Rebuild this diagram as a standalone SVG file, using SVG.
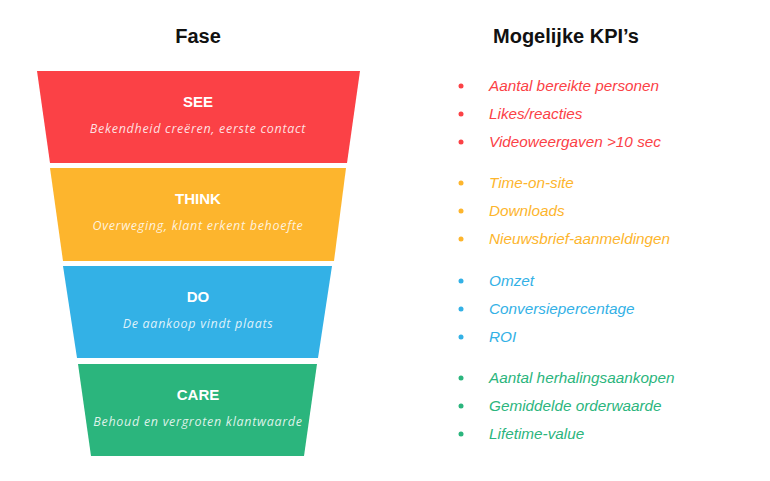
<svg xmlns="http://www.w3.org/2000/svg" width="770" height="481" viewBox="0 0 770 481">
<style>
.h{font-family:"Liberation Sans",Arial,sans-serif;font-weight:bold;font-size:20px;fill:#111;text-anchor:middle}
.t{font-family:"Liberation Sans",Arial,sans-serif;font-weight:bold;font-size:15px;fill:#fff;text-anchor:middle}
.s{font-family:"Open Sans","Liberation Sans",sans-serif;font-style:italic;font-size:12.5px;letter-spacing:0.7px;fill:#fff;fill-opacity:.85;text-anchor:middle}
.k{font-family:"Liberation Sans",Arial,sans-serif;font-style:italic;font-size:15.3px}
</style>
<rect width="770" height="481" fill="#fff"/>
<text class="h" x="198" y="43">Fase</text>
<text class="h" x="566" y="43">Mogelijke KPI’s</text>
<g id="see"><polygon points="37,71 360,71 347,163 50,163" fill="#fb4146"/><text class="t" x="198" y="107">SEE</text><text class="s" x="198" y="133">Bekendheid creëren, eerste contact</text></g>
<g id="think"><polygon points="50,168 346,168 334,261 63,261" fill="#fdb52d"/><text class="t" x="198" y="204">THINK</text><text class="s" x="198" y="230">Overweging, klant erkent behoefte</text></g>
<g id="do"><polygon points="63,266 332,266 318,358 77,358" fill="#33b1e6"/><text class="t" x="198" y="302">DO</text><text class="s" x="198" y="328">De aankoop vindt plaats</text></g>
<g id="care"><polygon points="78,364 317,364 304,456 91,456" fill="#2bb57d"/><text class="t" x="198" y="400">CARE</text><text class="s" x="198" y="426">Behoud en vergroten klantwaarde</text></g>
<g id="kpi-see" fill="#fb4146"><circle cx="461" cy="86" r="2.5"/><circle cx="461" cy="114" r="2.5"/><circle cx="461" cy="142" r="2.5"/>
<text class="k" x="489" y="91">Aantal bereikte personen</text><text class="k" x="489" y="119">Likes/reacties</text><text class="k" x="489" y="147">Videoweergaven &gt;10 sec</text></g>
<g id="kpi-think" fill="#fdb52d"><circle cx="461" cy="183" r="2.5"/><circle cx="461" cy="211" r="2.5"/><circle cx="461" cy="239" r="2.5"/>
<text class="k" x="489" y="188">Time-on-site</text><text class="k" x="489" y="216">Downloads</text><text class="k" x="489" y="244">Nieuwsbrief-aanmeldingen</text></g>
<g id="kpi-do" fill="#33b1e6"><circle cx="461" cy="281" r="2.5"/><circle cx="461" cy="309" r="2.5"/><circle cx="461" cy="337" r="2.5"/>
<text class="k" x="489" y="286">Omzet</text><text class="k" x="489" y="314">Conversiepercentage</text><text class="k" x="489" y="342">ROI</text></g>
<g id="kpi-care" fill="#2bb57d"><circle cx="461" cy="378" r="2.5"/><circle cx="461" cy="406" r="2.5"/><circle cx="461" cy="434" r="2.5"/>
<text class="k" x="489" y="383">Aantal herhalingsaankopen</text><text class="k" x="489" y="411">Gemiddelde orderwaarde</text><text class="k" x="489" y="439">Lifetime-value</text></g>
<g id="connectors"/>
</svg>
